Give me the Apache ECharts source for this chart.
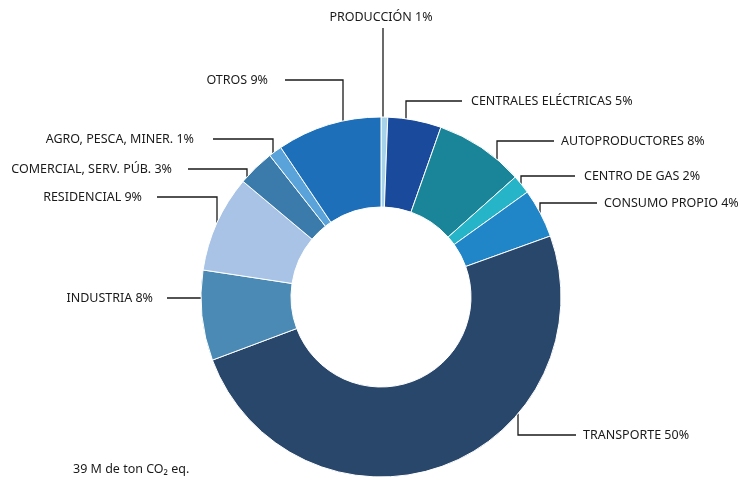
<!DOCTYPE html>
<html>
<head>
<meta charset="utf-8">
<script src="https://cdn.jsdelivr.net/npm/echarts@6/dist/echarts.min.js"></script>
<style>html,body{margin:0;padding:0;background:#fff}#c{width:738px;height:480px}</style>
</head>
<body>
<div id="c"></div>
<script>
// ---- data ----
const categories = ['PRODUCCIÓN','CENTRALES ELÉCTRICAS','AUTOPRODUCTORES','CENTRO DE GAS','CONSUMO PROPIO','TRANSPORTE','INDUSTRIA','RESIDENCIAL','COMERCIAL, SERV. PÚB.','AGRO, PESCA, MINER.','OTROS'];
const values = [0.6, 4.8, 8.0, 1.7, 4.4, 49.8, 8.1, 8.7, 3.3, 1.2, 9.4];
const labelPercents = [1, 5, 8, 2, 4, 50, 8, 9, 3, 1, 9];
const colors = ['#a6d3ea','#1a4a9c','#1a8598','#25b4c8','#2186c7','#29466b','#4a8ab4','#a8c3e5','#3b7bab','#5aa3da','#1c6fb8'];
const footnote = '39 M de ton CO₂ eq.';

// ---- layout ----
const CX = 381, CY = 297, R = 180, RIN = 90;
// label placement: ax = leader anchor x on the arc (null = horizontal only), top = upper half of arc
// ly = label line y, lx = line end x, tx = text x, align
const labelPlace = [
  {ax:383, top:true,  ly:28,  lx:383, tx:381, ty:17, align:'center'},
  {ax:406, top:true,  ly:101, lx:462, tx:471, align:'left'},
  {ax:497, top:true,  ly:141, lx:554, tx:561, align:'left'},
  {ax:521, top:true,  ly:176, lx:575, tx:584, align:'left'},
  {ax:540, top:true,  ly:203, lx:597, tx:604, align:'left'},
  {ax:518, top:false, ly:435, lx:576, tx:583, align:'left'},
  {ax:null,top:true,  ly:298, lx:167, tx:153, align:'right'},
  {ax:217, top:true,  ly:197, lx:157, tx:142, align:'right'},
  {ax:247, top:true,  ly:169, lx:188, tx:172, align:'right'},
  {ax:273, top:true,  ly:139, lx:213, tx:194, align:'right'},
  {ax:343, top:true,  ly:80,  lx:285, tx:268, align:'right'}
];
function arcY(x, top){ const d = Math.sqrt(Math.max(0, R*R-(x-CX)*(x-CX))); return top ? CY-d : CY+d; }
function arcX(y){ return CX - Math.sqrt(Math.max(0, R*R-(y-CY)*(y-CY))); }

const chart = echarts.init(document.getElementById('c'), null, {renderer:'canvas'});
const FONT = '"Noto Sans", sans-serif';
const FS = 12.5;
chart.setOption({
  animation: false,
  title: {
    text: footnote, left: 73, top: 463, padding: 0,
    textStyle: {fontFamily: FONT, fontSize: FS, fontWeight: 'normal', color: '#1a1a1a'}
  },
  series: [{
    type: 'pie',
    center: [CX, CY],
    radius: [RIN, R],
    startAngle: 90,
    clockwise: true,
    avoidLabelOverlap: false,
    emphasis: {disabled: true},
    itemStyle: {borderColor: '#fff', borderWidth: 1},
    label: {
      show: true, position: 'outside',
      fontFamily: FONT, fontSize: FS, color: '#1a1a1a',
      formatter: p => categories[p.dataIndex] + ' ' + labelPercents[p.dataIndex] + '%'
    },
    labelLine: {show: true, lineStyle: {color: '#1a1a1a', width: 1.3}},
    labelLayout: function (params) {
      const L = labelPlace[params.dataIndex];
      let pts;
      if (L.ax === null) {
        const x0 = arcX(L.ly);
        pts = [[x0, L.ly], [x0, L.ly], [L.lx, L.ly]];
      } else {
        const y0 = arcY(L.ax, L.top);
        pts = [[L.ax, y0], [L.ax, L.ly], [L.lx, L.ly]];
      }
      return {
        x: L.tx, y: L.ty != null ? L.ty : L.ly,
        align: L.align, verticalAlign: 'middle',
        labelLinePoints: pts
      };
    },
    data: categories.map((c, i) => ({name: c, value: values[i], itemStyle: {color: colors[i]}}))
  }]
});
</script>
</body>
</html>
